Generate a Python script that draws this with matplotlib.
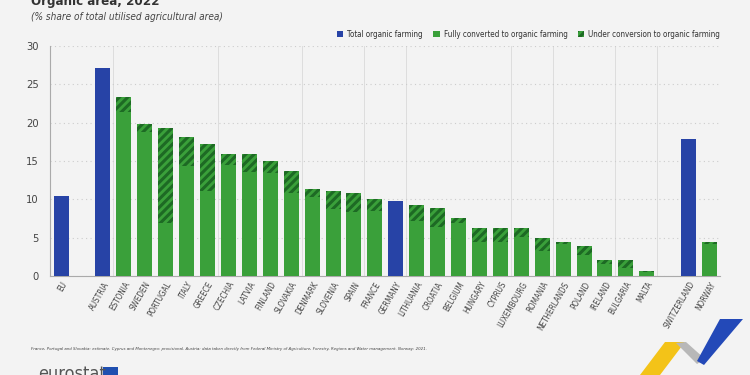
import numpy as np
import matplotlib.pyplot as plt
from matplotlib.patches import Polygon, Rectangle

# Data (% share of total utilised agricultural area)
countries = ['EU', '', 'AUSTRIA', 'ESTONIA', 'SWEDEN', 'PORTUGAL', 'ITALY', 'GREECE',
             'CZECHIA', 'LATVIA', 'FINLAND', 'SLOVAKIA', 'DENMARK', 'SLOVENIA', 'SPAIN',
             'FRANCE', 'GERMANY', 'LITHUANIA', 'CROATIA', 'BELGIUM', 'HUNGARY', 'CYPRUS',
             'LUXEMBOURG', 'ROMANIA', 'NETHERLANDS', 'POLAND', 'IRELAND', 'BULGARIA',
             'MALTA', '', 'SWITZERLAND', 'NORWAY']
total_only = [10.5, 0, 27.1, 0, 0, 0, 0, 0, 0, 0, 0, 0, 0, 0, 0, 0, 9.8, 0, 0, 0, 0, 0,
              0, 0, 0, 0, 0, 0, 0, 0, 17.9, 0]
fully = [0, 0, 0, 21.4, 18.8, 6.9, 14.3, 11.1, 14.5, 13.6, 13.5, 10.8, 10.3, 8.7, 8.3,
         8.5, 0, 7.2, 6.4, 6.9, 4.5, 4.4, 5.1, 3.3, 4.2, 2.8, 1.6, 1.1, 0.55, 0, 0, 4.2]
conversion = [0, 0, 0, 2.0, 1.1, 12.4, 3.8, 6.1, 1.4, 2.3, 1.5, 2.9, 1.1, 2.4, 2.5,
              1.5, 0, 2.1, 2.5, 0.7, 1.7, 1.8, 1.1, 1.7, 0.2, 1.1, 0.5, 1.0, 0.05, 0, 0, 0.3]

BLUE = '#2743a6'
GREEN = '#3aa03a'
DARK = '#1d6a24'
BG = '#f3f3f3'

plt.rcParams['font.family'] = ['DejaVu Sans']
plt.rcParams['font.stretch'] = 'condensed'
plt.rcParams['hatch.linewidth'] = 2.2
plt.rcParams['hatch.color'] = DARK

fig = plt.figure(figsize=(7.5, 3.75), dpi=100, facecolor=BG)
ax = fig.add_axes([0.0667, 0.264, 0.8933, 0.613], facecolor=BG)

x = np.arange(len(countries))
w = 0.72
ax.bar(x, total_only, w, color=BLUE, label='Total organic farming', zorder=3)
ax.bar(x, fully, w, color=GREEN, label='Fully converted to organic farming', zorder=3)
ax.bar(x, conversion, w, bottom=fully, color=GREEN, hatch='////', edgecolor=DARK,
       linewidth=0, label='Under conversion to organic farming', zorder=3)

ax.set_xlim(-0.53, 31.5)
ax.set_ylim(0, 30)
ax.set_yticks(range(0, 31, 5))
ax.grid(axis='y', color='#cccccc', linestyle=(0, (1, 3)), linewidth=0.8, zorder=0)
for xv in [2.5, 7.5, 11.5, 14.5, 16.5, 21.5, 23.5, 26.5, 28.5]:
    ax.axvline(xv, color='#dddddd', linewidth=0.7, zorder=0)

ax.set_xticks(x)
ax.set_xticklabels(countries, rotation=60, ha='right', rotation_mode='anchor',
                   fontsize=5.8, color='#444444')
ax.tick_params(axis='x', length=0, pad=3)
ax.tick_params(axis='y', length=0, labelsize=8, colors='#444444', pad=8)
for s in ['top', 'right']:
    ax.spines[s].set_visible(False)
ax.spines['left'].set_color('#aaaaaa')
ax.spines['bottom'].set_color('#aaaaaa')

fig.legend(loc='upper right', bbox_to_anchor=(0.97, 0.94), ncol=3, frameon=False,
           fontsize=5.8, handlelength=0.8, handleheight=0.8, handletextpad=0.5,
           columnspacing=1.3, labelcolor='#333333')

fig.text(0.041, 1 - 5 / 375, 'Organic area, 2022', fontsize=9.5, fontweight='bold',
         color='#333333', va='baseline')
fig.text(0.041, 1 - 17 / 375, '(% share of total utilised agricultural area)', fontsize=7.2,
         style='italic', color='#444444', va='center')
fig.text(0.041, 1 - 349 / 375, 'France, Portugal and Slovakia: estimate. Cyprus and Montenegro: '
         'provisional. Austria: data taken directly from Federal Ministry of Agriculture, '
         'Forestry, Regions and Water management. Norway: 2021.',
         fontsize=3.2, style='italic', color='#444444', va='center')

# eurostat logo
fig.text(0.051, -0.022, 'eurostat', fontsize=13, color='#555555', va='bottom')
fig.patches.append(Rectangle((103 / 750, 0.0), 15 / 750, 0.022, transform=fig.transFigure,
                             facecolor='#1f4fb0', edgecolor='none'))


def px(pts):
    return [(a / 750, 1 - b / 375) for a, b in pts]


# decorative ribbon
fig.patches.append(Polygon(px([(640, 375), (665, 342), (685, 342), (660, 375)]),
                           closed=True, transform=fig.transFigure, facecolor='#f3c318'))
fig.patches.append(Polygon(px([(676, 343), (686, 342), (705, 359), (697, 364)]),
                           closed=True, transform=fig.transFigure, facecolor='#b8b8b8'))
fig.patches.append(Polygon(px([(697, 361), (720, 319), (743, 319), (704, 365)]),
                           closed=True, transform=fig.transFigure, facecolor='#2349b8'))

fig.savefig('out.png', dpi=100, facecolor=BG)
